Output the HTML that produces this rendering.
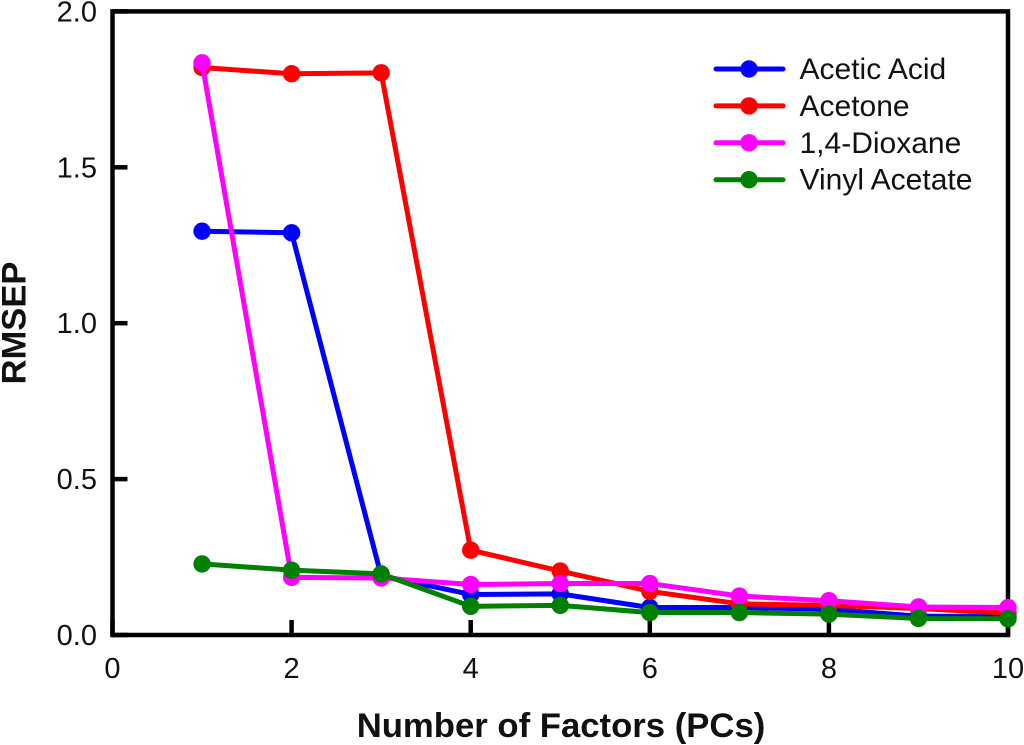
<!DOCTYPE html>
<html>
<head>
<meta charset="utf-8">
<style>
html,body{margin:0;padding:0;background:#fff;}
svg{display:block;}
text{font-family:"Liberation Sans",Arial,sans-serif;fill:#111;}
</style>
</head>
<body>
<svg id="chart" width="1024" height="745" viewBox="0 0 1024 745" xmlns="http://www.w3.org/2000/svg"></svg>
<script>
const factors = [1, 2, 3, 4, 5, 6, 7, 8, 9, 10];
const aceticAcid = [1.295, 1.29, 0.19, 0.13, 0.132, 0.088, 0.088, 0.083, 0.06, 0.06];
const acetone = [1.82, 1.80, 1.803, 0.272, 0.205, 0.14, 0.10, 0.095, 0.085, 0.07];
const dioxane = [1.835, 0.185, 0.183, 0.162, 0.165, 0.165, 0.125, 0.11, 0.09, 0.088];
const vinylAcetate = [0.228, 0.208, 0.196, 0.092, 0.095, 0.072, 0.072, 0.067, 0.053, 0.052];
const xTicks = [0, 2, 4, 6, 8, 10];
const yTicks = [0, 0.5, 1, 1.5, 2];
const yTickLabels = ['0.0', '0.5', '1.0', '1.5', '2.0'];
const seriesNames = ['Acetic Acid', 'Acetone', '1,4-Dioxane', 'Vinyl Acetate'];
const seriesValues = [aceticAcid, acetone, dioxane, vinylAcetate];
const seriesColors = ['#0000ff', '#ff0000', '#ff00ff', '#008000'];

const svg = document.getElementById('chart');
const NS = 'http://www.w3.org/2000/svg';
const xScale = v => 112.5 + v * 89.55;
const yScale = v => 635 - v * 311.8;
function make(tag, attrs, text) {
  const el = document.createElementNS(NS, tag);
  for (const k in attrs) el.setAttribute(k, attrs[k]);
  if (text !== undefined) el.textContent = text;
  return el;
}
const slug = s => s.toLowerCase().replace(/[^a-z0-9]+/g, '-');

const frame = make('rect', {x: xScale(0), y: yScale(2), width: xScale(10) - xScale(0), height: yScale(0) - yScale(2), fill: 'none', stroke: '#000', 'stroke-width': 4.5});


svg.appendChild(frame);

xTicks.forEach(t => {
  const tick = make('line', {x1: xScale(t), x2: xScale(t), y1: yScale(0), y2: yScale(0) - 15, stroke: '#000', 'stroke-width': 4.5});
  
  
  svg.appendChild(tick);
  const label = make('text', {x: xScale(t), y: 678, 'text-anchor': 'middle', 'font-size': 29}, String(t));
  
  
  svg.appendChild(label);
});
yTicks.forEach((t, i) => {
  const tick = make('line', {x1: xScale(0), x2: xScale(0) + 15, y1: yScale(t), y2: yScale(t), stroke: '#000', 'stroke-width': 4.5});
  
  
  svg.appendChild(tick);
  const label = make('text', {x: 97, y: yScale(t) + 10, 'text-anchor': 'end', 'font-size': 29}, yTickLabels[i]);
  
  
  svg.appendChild(label);
});

seriesValues.forEach((vals, s) => {
  const group = make('g', {});
  
  
  const pts = vals.map((v, i) => xScale(factors[i]) + ',' + yScale(v)).join(' ');
  const line = make('polyline', {points: pts, fill: 'none', stroke: seriesColors[s], 'stroke-width': 5, 'stroke-linejoin': 'round'});
  
  
  group.appendChild(line);
  vals.forEach((v, i) => {
    const dot = make('circle', {cx: xScale(factors[i]), cy: yScale(v), r: 8.7, fill: seriesColors[s]});
    
    
    group.appendChild(dot);
  });
  svg.appendChild(group);
});

seriesNames.forEach((name, s) => {
  const y = 69 + s * 36.9;
  const group = make('g', {});
  
  
  const line = make('line', {x1: 716, x2: 783, y1: y, y2: y, stroke: seriesColors[s], 'stroke-width': 5, 'stroke-linecap': 'round'});
  
  
  group.appendChild(line);
  const dot = make('circle', {cx: 749, cy: y, r: 8.7, fill: seriesColors[s]});
  
  
  group.appendChild(dot);
  const label = make('text', {x: 799.5, y: y + 10, 'font-size': 30}, name);
  
  
  group.appendChild(label);
  svg.appendChild(group);
});

const xTitle = make('text', {x: 561, y: 737, 'text-anchor': 'middle', 'font-size': 34.7, 'font-weight': 'bold'}, 'Number of Factors (PCs)');


svg.appendChild(xTitle);
const yTitle = make('text', {x: 0, y: 0, transform: 'translate(25.5,323) rotate(-90)', 'text-anchor': 'middle', 'font-size': 34.5, 'font-weight': 'bold'}, 'RMSEP');


svg.appendChild(yTitle);
</script>
</body>
</html>
